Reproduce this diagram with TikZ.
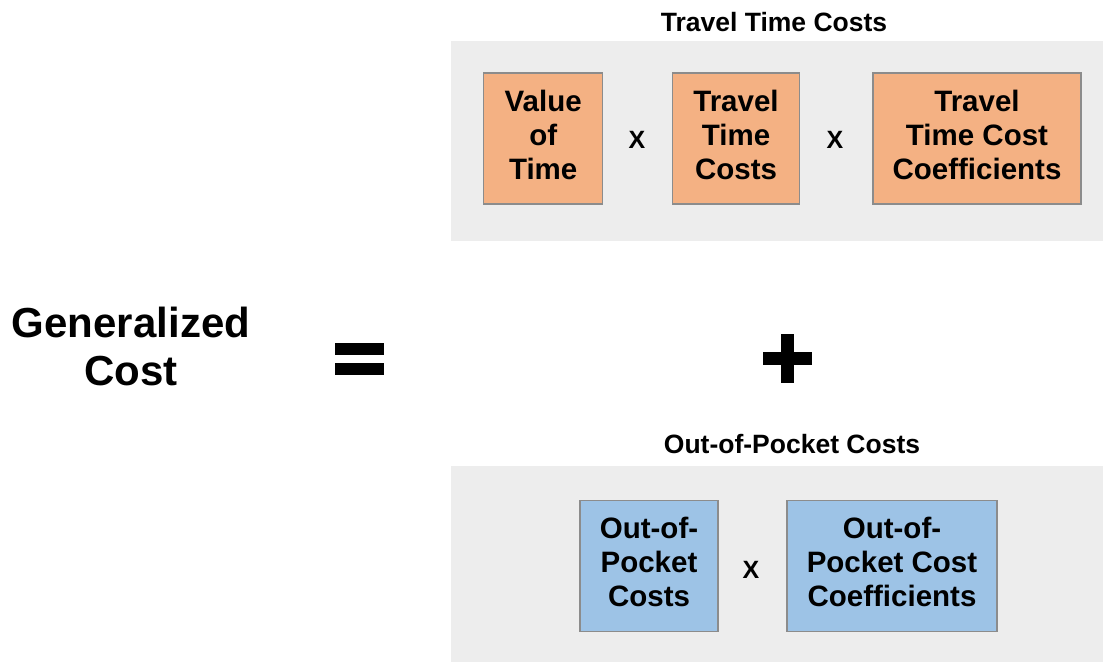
\documentclass[tikz,border=0pt]{standalone}
\usepackage{fontspec}
\setmainfont{Liberation Sans}
\definecolor{panelgray}{HTML}{EDEDED}
\definecolor{boxorange}{HTML}{F4B183}
\definecolor{boxblue}{HTML}{9DC3E6}
\definecolor{boxborder}{HTML}{8C8C8C}
\newcommand{\liftlines}[1]{\raisebox{3pt}{\begin{tabular}{@{}c@{}}#1\end{tabular}}}
\begin{document}
\begin{tikzpicture}[x=1pt,y=-1pt,
  panel/.style={fill=panelgray,draw=none,inner sep=0pt,anchor=north west},
  cbox/.style={draw=boxborder,line width=1.2pt,inner sep=0pt,align=center,
    font=\fontsize{29.5}{34}\selectfont\bfseries},
  obox/.style={cbox,fill=boxorange},
  bbox/.style={cbox,fill=boxblue},
  title/.style={inner sep=0pt,font=\fontsize{26.5}{30}\selectfont\bfseries},
  times/.style={inner sep=0pt,font=\fontsize{25}{28}\selectfont\bfseries},
  bar/.style={fill=black,draw=none,inner sep=0pt}]
\useasboundingbox (0,0) rectangle (1103,662);
% panels
\node[panel,minimum width=652pt,minimum height=200pt] (ptop) at (451,41) {};
\node[panel,minimum width=652pt,minimum height=196pt] (pbot) at (451,466) {};
% titles
\node[title] (ttop) at (774,22) {Travel Time Costs};
\node[title] (tbot) at (792,444) {Out-of-Pocket Costs};
% top boxes
\node[obox,minimum width=119pt,minimum height=131pt] (vot) at (543.2,138.5) {\liftlines{Value\\of\\Time}};
\node[times] (x1) at (637,140) {X};
\node[obox,minimum width=127pt,minimum height=131pt] (ttc) at (736,138.5) {\liftlines{Travel\\Time\\Costs}};
\node[times] (x2) at (835,140) {X};
\node[obox,minimum width=208pt,minimum height=131pt] (ttcc) at (977,138.5) {\liftlines{Travel\\Time Cost\\Coefficients}};
% bottom boxes
\node[bbox,minimum width=138pt,minimum height=131pt] (opc) at (649,566) {\liftlines{Out-of-\\Pocket\\Costs}};
\node[times] (x3) at (751,570) {X};
\node[bbox,minimum width=210pt,minimum height=131pt] (opcc) at (892,566) {\liftlines{Out-of-\\Pocket Cost\\Coefficients}};
% left side
\node[inner sep=0pt,align=center,font=\fontsize{42}{48}\selectfont\bfseries] (gc) at (131,346) {Generalized\\Cost};
% equals
\node[bar,minimum width=49pt,minimum height=12pt] (eq1) at (359.5,349) {};
\node[bar,minimum width=49pt,minimum height=12.5pt] (eq2) at (359.5,369) {};
% plus
\node[bar,minimum width=13pt,minimum height=49pt] (plv) at (787.7,358.8) {};
\node[bar,minimum width=49pt,minimum height=13pt] (plh) at (787.7,358.5) {};
\end{tikzpicture}
\end{document}
